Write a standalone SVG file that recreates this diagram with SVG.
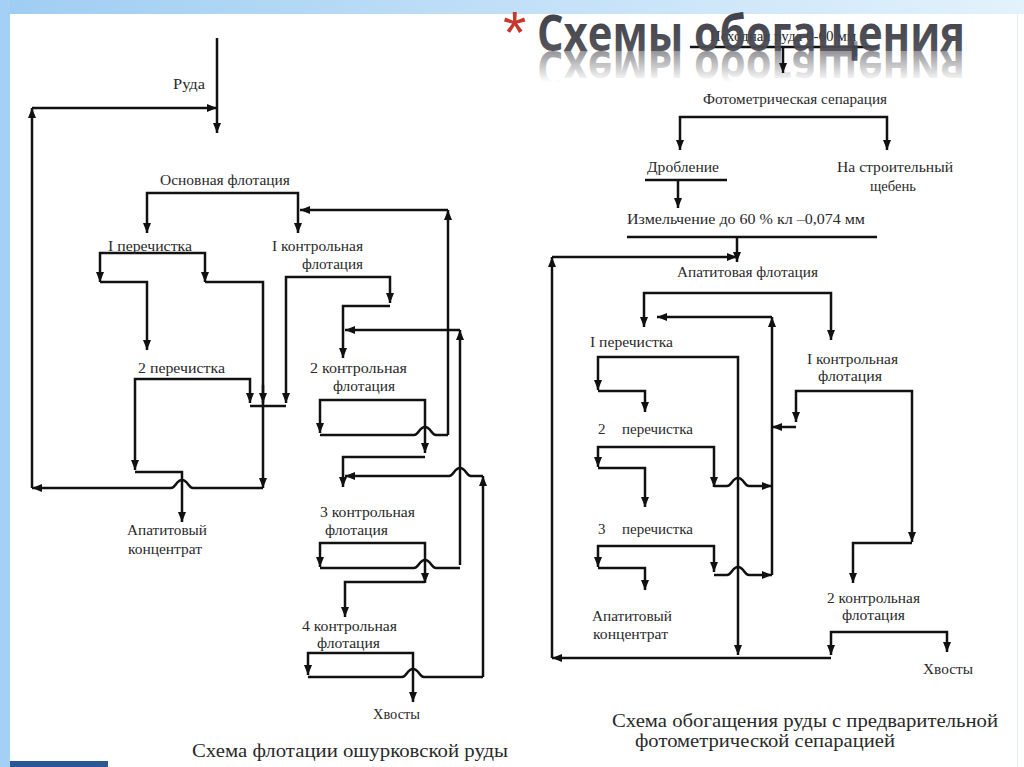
<svg xmlns="http://www.w3.org/2000/svg" width="1024" height="767" viewBox="0 0 1024 767">
<defs>
<linearGradient id="topband" x1="0" y1="0" x2="1" y2="0">
<stop offset="0" stop-color="#9fcdf2"/>
<stop offset="1" stop-color="#e3f2fc"/>
</linearGradient>
<linearGradient id="refl" gradientUnits="userSpaceOnUse" x1="0" y1="51" x2="0" y2="20">
<stop offset="0" stop-color="#3d3d45" stop-opacity="0.55"/>
<stop offset="1" stop-color="#3d3d45" stop-opacity="0"/>
</linearGradient>
<linearGradient id="titlefill" x1="0" y1="0" x2="0" y2="1">
<stop offset="0" stop-color="#2e2e36"/>
<stop offset="1" stop-color="#55555e"/>
</linearGradient>
<marker id="ah" viewBox="0 0 10 8" refX="10" refY="4" markerWidth="10" markerHeight="8" markerUnits="userSpaceOnUse" orient="auto-start-reverse">
<path d="M0,0 L10,4 L0,8 z" fill="#111"/>
</marker>
</defs>
<style>
.t{font-family:Liberation Serif,serif;font-size:15px;fill:#2a2a2a;}
.cap{font-family:Liberation Serif,serif;font-size:19px;fill:#2a2a2a;}
.c path{fill:none;stroke:#111;stroke-width:2.5;}
.a{marker-end:url(#ah);}
.b{marker-start:url(#ah);marker-end:url(#ah);}
.s{marker-start:url(#ah);}
</style>
<rect x="0" y="0" width="1024" height="767" fill="#ffffff"/>
<rect x="0" y="0" width="1024" height="14" fill="url(#topband)"/>
<rect x="0" y="0" width="10" height="767" fill="#a3d0f4"/>
<rect x="1017" y="14" width="1" height="753" fill="#e6edf2"/>
<rect x="10" y="761" width="98" height="6" fill="#2b5797"/>

<g id="connectors" class="c">
<path class="a" d="M217,38 V133"/>
<path class="a" d="M32,488 V108"/>
<path class="a" d="M32,108 H217"/>
<path class="b" d="M147,233 V193 H298 V233"/>
<path class="a" d="M448,435 V210"/>
<path class="a" d="M448,210 H300"/>
<path class="b" d="M100,282 V253 H205 V282"/>
<path class="a" d="M100,282 H147 V350"/>
<path class="a" d="M205,282 H263 V488"/>
<path class="a" d="M263,385 V403"/>
<path class="b" d="M250,403 V379 H135 V470"/>
<path d="M250,406 H286"/>
<path class="b" d="M286,403 V277 H390 V303"/>
<path class="a" d="M135,472 H182 V522"/>
<path class="s" d="M32,488 H171 C176,488 176,480 182,480 C188,480 188,488 193,488 H263"/>
<path class="a" d="M390,306 H343 V358"/>
<path class="a" d="M460,565 V330"/>
<path class="a" d="M460,330 H345"/>
<path class="b" d="M320,433 V400 H425 V453"/>
<path d="M320,435 H414 C419,435 419,427 425,427 C431,427 431,435 436,435 H448"/>
<path class="a" d="M425,457 H343 V487"/>
<path class="a" d="M483,677 V476"/>
<path class="s" d="M345,476 H449 C454,476 454,468 460,468 C466,468 466,476 471,476 H483"/>
<path class="b" d="M320,567 V543 H425 V583"/>
<path d="M320,568 H414 C419,568 419,560 425,560 C431,560 431,568 436,568 H460"/>
<path class="a" d="M425,582 H345 V617"/>
<path class="b" d="M308,675 V653 H413 V702"/>
<path d="M308,677 H402 C407,677 407,669 413,669 C419,669 419,677 424,677 H483"/>
<path d="M690,47 H877"/>
<path class="a" d="M783,47 V73"/>
<path class="b" d="M680,150 V117 H887 V150"/>
<path d="M645,180 H727"/>
<path class="a" d="M678,180 V208"/>
<path d="M627,237 H877"/>
<path class="a" d="M737,237 V262"/>
<path class="a" d="M552,658 V257"/>
<path class="a" d="M552,257 H737"/>
<path class="b" d="M644,327 V293 H831 V340"/>
<path class="a" d="M772,575 V317"/>
<path class="a" d="M772,317 H657"/>
<path class="b" d="M598,390 V357 H738 V655"/>
<path class="a" d="M598,391 H645 V412"/>
<path class="b" d="M796,422 V391 H912 V542"/>
<path class="a" d="M796,427 H772"/>
<path class="b" d="M598,467 V447 H714 V487"/>
<path class="a" d="M598,468 H645 V507"/>
<path class="a" d="M714,486 H727 C732,486 732,478 738,478 C744,478 744,486 749,486 H772"/>
<path class="b" d="M598,567 V546 H714 V572"/>
<path class="a" d="M598,568 H645 V590"/>
<path class="a" d="M714,575 H727 C732,575 732,567 738,567 C744,567 744,575 749,575 H772"/>
<path class="a" d="M912,543 H853 V583"/>
<path class="b" d="M831,655 V632 H947 V652"/>
<path class="s" d="M552,658 H831"/>
</g>

<g id="ruda"><text class="t" x="173" y="89" textLength="32" lengthAdjust="spacingAndGlyphs">Руда</text></g>
<g id="osn-flot"><text class="t" x="160" y="185" textLength="130" lengthAdjust="spacingAndGlyphs">Основная флотация</text></g>
<g id="l-per1"><text class="t" x="108" y="251" textLength="84" lengthAdjust="spacingAndGlyphs">I перечистка</text></g>
<g id="l-kontr1"><text class="t" x="272" y="251" textLength="91" lengthAdjust="spacingAndGlyphs">I контрольная</text><text class="t" x="302" y="269" textLength="61" lengthAdjust="spacingAndGlyphs">флотация</text></g>
<g id="l-per2"><text class="t" x="138" y="373" textLength="87" lengthAdjust="spacingAndGlyphs">2 перечистка</text></g>
<g id="l-kontr2"><text class="t" x="310" y="373" textLength="97" lengthAdjust="spacingAndGlyphs">2 контрольная</text><text class="t" x="333" y="391" textLength="62" lengthAdjust="spacingAndGlyphs">флотация</text></g>
<g id="l-konc"><text class="t" x="127" y="535" textLength="80" lengthAdjust="spacingAndGlyphs">Апатитовый</text><text class="t" x="128" y="554" textLength="74" lengthAdjust="spacingAndGlyphs">концентрат</text></g>
<g id="l-kontr3"><text class="t" x="320" y="517" textLength="95" lengthAdjust="spacingAndGlyphs">3 контрольная</text><text class="t" x="325" y="535" textLength="63" lengthAdjust="spacingAndGlyphs">флотация</text></g>
<g id="l-kontr4"><text class="t" x="302" y="631" textLength="95" lengthAdjust="spacingAndGlyphs">4 контрольная</text><text class="t" x="317" y="648" textLength="63" lengthAdjust="spacingAndGlyphs">флотация</text></g>
<g id="l-hvosty"><text class="t" x="373" y="719" textLength="47" lengthAdjust="spacingAndGlyphs">Хвосты</text></g>
<g id="l-caption"><text class="cap" x="192" y="757" textLength="316" lengthAdjust="spacingAndGlyphs">Схема флотации ошурковской руды</text></g>

<g id="r-ishod"><text class="t" x="783" y="41" text-anchor="middle" font-size="13" fill="#555">Исходная руда 0-60 мм</text></g>
<g id="r-foto"><text class="t" x="703" y="104" textLength="184" lengthAdjust="spacingAndGlyphs">Фотометрическая сепарация</text></g>
<g id="r-drob"><text class="t" x="647" y="172" textLength="72" lengthAdjust="spacingAndGlyphs">Дробление</text></g>
<g id="r-scheben"><text class="t" x="837" y="172" textLength="116" lengthAdjust="spacingAndGlyphs">На строительный</text><text class="t" x="870" y="191" textLength="46" lengthAdjust="spacingAndGlyphs">щебень</text></g>
<g id="r-izmel"><text class="t" x="627" y="224" textLength="238" lengthAdjust="spacingAndGlyphs">Измельчение до 60 % кл –0,074 мм</text></g>
<g id="r-apflot"><text class="t" x="677" y="277" textLength="141" lengthAdjust="spacingAndGlyphs">Апатитовая флотация</text></g>
<g id="r-per1"><text class="t" x="590" y="347" textLength="83" lengthAdjust="spacingAndGlyphs">I перечистка</text></g>
<g id="r-kontr1"><text class="t" x="807" y="364" textLength="91" lengthAdjust="spacingAndGlyphs">I контрольная</text><text class="t" x="818" y="381" textLength="64" lengthAdjust="spacingAndGlyphs">флотация</text></g>
<g id="r-per2"><text class="t" y="434"><tspan x="598">2</tspan><tspan x="622" textLength="71" lengthAdjust="spacingAndGlyphs">перечистка</tspan></text></g>
<g id="r-per3"><text class="t" y="534"><tspan x="598">3</tspan><tspan x="622" textLength="71" lengthAdjust="spacingAndGlyphs">перечистка</tspan></text></g>
<g id="r-konc"><text class="t" x="592" y="621" textLength="80" lengthAdjust="spacingAndGlyphs">Апатитовый</text><text class="t" x="593" y="639" textLength="75" lengthAdjust="spacingAndGlyphs">концентрат</text></g>
<g id="r-kontr2"><text class="t" x="827" y="603" textLength="93" lengthAdjust="spacingAndGlyphs">2 контрольная</text><text class="t" x="842" y="620" textLength="63" lengthAdjust="spacingAndGlyphs">флотация</text></g>
<g id="r-hvosty"><text class="t" x="923" y="674" textLength="50" lengthAdjust="spacingAndGlyphs">Хвосты</text></g>
<g id="r-caption"><text class="cap" x="612" y="727" textLength="386" lengthAdjust="spacingAndGlyphs">Схема обогащения руды с предварительной</text><text class="cap" x="635" y="747" textLength="260" lengthAdjust="spacingAndGlyphs">фотометрической сепарацией</text></g>

<g id="title">
<text x="503" y="53" font-family="'Liberation Sans', Arial, sans-serif" font-size="60" fill="#c8372d">*</text>
<text x="537" y="51" font-family="'Open Sans', 'DejaVu Sans', sans-serif" font-weight="bold" font-size="50" fill="url(#titlefill)" fill-opacity="0.95" textLength="428" lengthAdjust="spacingAndGlyphs">Схемы обогащения</text>
<text x="537" y="51" transform="translate(0,102) scale(1,-1)" font-family="'Open Sans', 'DejaVu Sans', sans-serif" font-weight="bold" font-size="50" fill="url(#refl)" textLength="428" lengthAdjust="spacingAndGlyphs">Схемы обогащения</text>
</g>
</svg>
